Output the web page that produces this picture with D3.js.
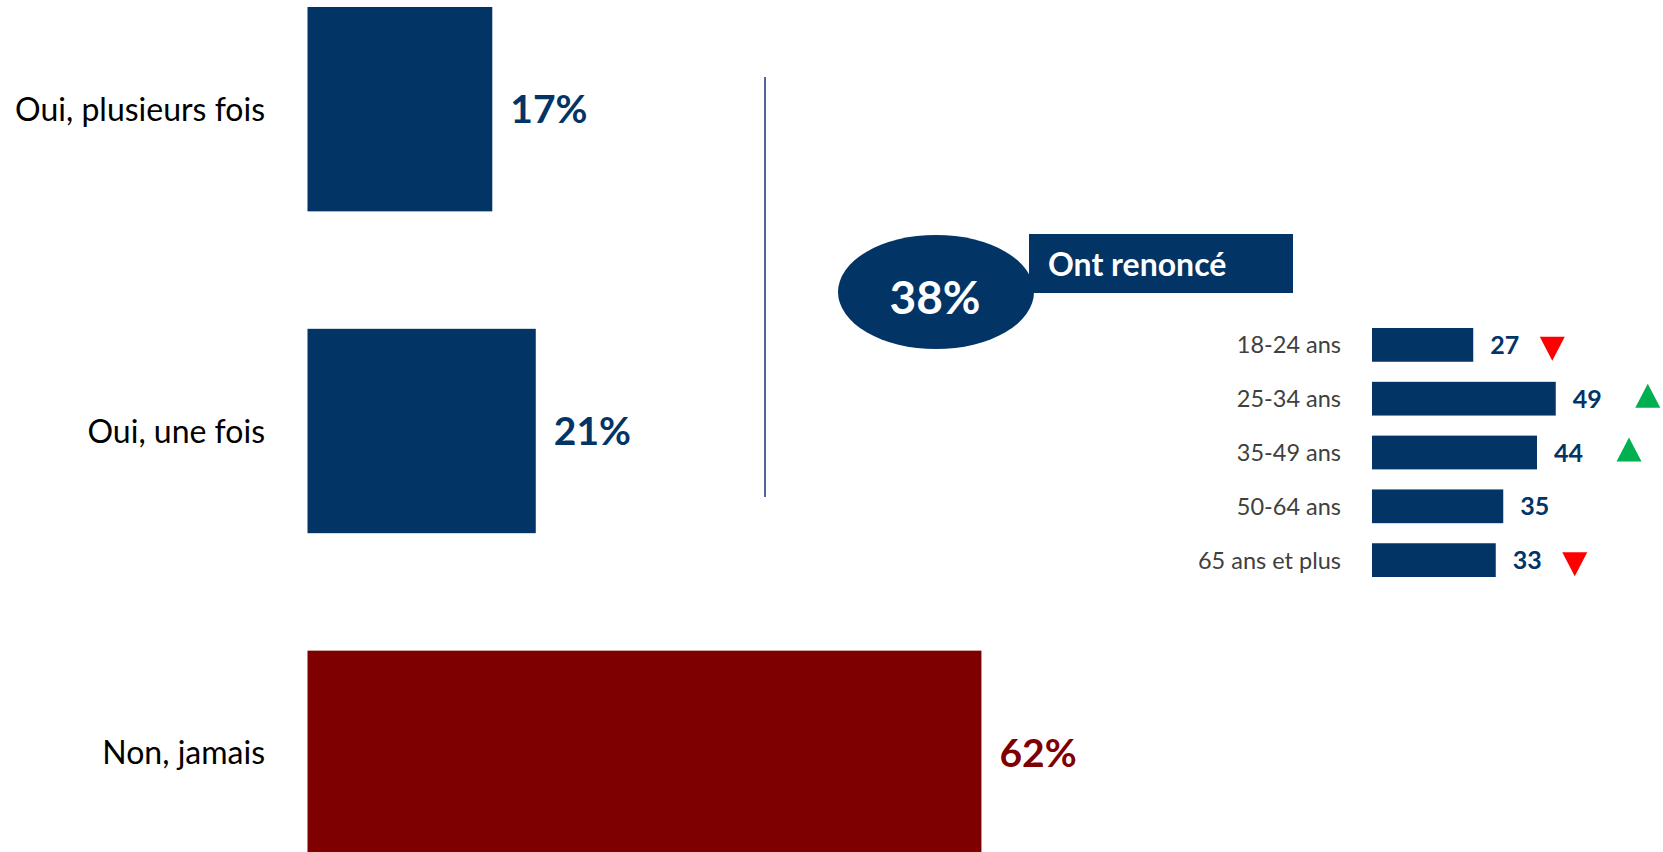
<!DOCTYPE html>
<html>
<head>
<meta charset="utf-8">
<script src="https://cdn.jsdelivr.net/npm/d3@7"></script>
<style>
  html, body { margin: 0; padding: 0; background: #ffffff; overflow: hidden; }
  svg { display: block; }
  text { font-family: Lato, "Open Sans", "Noto Sans", sans-serif; }
</style>
</head>
<body>
<svg id="chart" width="1663" height="852"></svg>
<script>
// ---------- data ----------
const mainCategories = ["Oui, plusieurs fois", "Oui, une fois", "Non, jamais"];
const mainValues = [17, 21, 62];
const mainColors = ["#023466", "#023466", "#7f0000"];

const totalRenounced = 38;
const totalLabel = "Ont renoncé";

const ageCategories = ["18-24 ans", "25-34 ans", "35-49 ans", "50-64 ans", "65 ans et plus"];
const ageValues = [27, 49, 44, 35, 33];
const ageTrend = ["down", "up", "up", "", "down"];

// ---------- setup ----------
const svg = d3.select("#chart");
const NAVY = "#023466";

// main bars
const xMain = d3.scaleLinear().domain([0, 100]).range([307.5, 1394.5]);
const yMain = d3.scaleBand().domain(mainCategories).range([7, 855]).paddingInner(0.365).paddingOuter(0);

const gMain = svg.append("g");
gMain.selectAll("rect").data(mainCategories).join("rect")
  .attr("x", xMain(0))
  .attr("y", d => yMain(d))
  .attr("width", (d, i) => xMain(mainValues[i]) - xMain(0))
  .attr("height", yMain.bandwidth())
  .attr("fill", (d, i) => mainColors[i]);

gMain.selectAll("text.cat").data(mainCategories).join("text")
  .attr("class", "cat")
  .attr("x", 265)
  .attr("y", d => yMain(d) + yMain.bandwidth() / 2)
  .attr("dy", "0.36em")
  .attr("text-anchor", "end")
  .attr("font-size", 32)
  .attr("fill", "#000")
  .text(d => d);

gMain.selectAll("text.val").data(mainCategories).join("text")
  .attr("class", "val")
  .attr("x", (d, i) => xMain(mainValues[i]) + 18)
  .attr("y", d => yMain(d) + yMain.bandwidth() / 2)
  .attr("dy", "0.36em")
  .attr("font-size", 39)
  .attr("font-weight", "bold")
  .attr("fill", (d, i) => mainColors[i])
  .text((d, i) => mainValues[i] + "%");

// divider
svg.append("line")
  .attr("x1", 765).attr("x2", 765)
  .attr("y1", 77).attr("y2", 497)
  .attr("stroke", "#4d6899").attr("stroke-width", 2);

// callout
const gCall = svg.append("g");
gCall.append("rect")
  .attr("x", 1029).attr("y", 234).attr("width", 264).attr("height", 59)
  .attr("fill", NAVY);
gCall.append("ellipse")
  .attr("cx", 936).attr("cy", 292).attr("rx", 98).attr("ry", 57)
  .attr("fill", NAVY);
gCall.append("text")
  .attr("x", 935).attr("y", 297).attr("dy", "0.36em")
  .attr("text-anchor", "middle")
  .attr("font-size", 46).attr("font-weight", "bold").attr("fill", "#fff")
  .text(totalRenounced + "%");
gCall.append("text")
  .attr("x", 1048).attr("y", 264).attr("dy", "0.36em")
  .attr("font-size", 32).attr("font-weight", "bold").attr("fill", "#fff")
  .text(totalLabel);

// age sub-chart
const xAge = d3.scaleLinear().domain([0, 100]).range([1372, 1747]);
const yAge = d3.scaleBand().domain(ageCategories).range([328, 577]).paddingInner(0.373).paddingOuter(0);

const gAge = svg.append("g");
gAge.selectAll("rect").data(ageCategories).join("rect")
  .attr("x", xAge(0))
  .attr("y", d => yAge(d))
  .attr("width", (d, i) => xAge(ageValues[i]) - xAge(0))
  .attr("height", yAge.bandwidth())
  .attr("fill", NAVY);

gAge.selectAll("text.cat").data(ageCategories).join("text")
  .attr("class", "cat")
  .attr("x", 1341)
  .attr("y", d => yAge(d) + yAge.bandwidth() / 2)
  .attr("dy", "0.36em")
  .attr("text-anchor", "end")
  .attr("font-size", 23.5)
  .attr("fill", "#404040")
  .text(d => d);

const vals = gAge.selectAll("text.val").data(ageCategories).join("text")
  .attr("class", "val")
  .attr("x", (d, i) => xAge(ageValues[i]) + 17)
  .attr("y", d => yAge(d) + yAge.bandwidth() / 2)
  .attr("dy", "0.36em")
  .attr("font-size", 25)
  .attr("font-weight", "bold")
  .attr("fill", NAVY)
  .text((d, i) => ageValues[i]);

// trend triangles
vals.each(function(d, i) {
  const t = ageTrend[i];
  if (!t) return;
  const endX = xAge(ageValues[i]) + 17 + this.getComputedTextLength();
  const cx = endX + (t === "up" ? 46 : 33);
  const cy = yAge(d) + yAge.bandwidth() / 2 + (t === "up" ? -3 : 4);
  const h = 24, w = 25;
  const pts = t === "up"
    ? [[cx - w / 2, cy + h / 2], [cx + w / 2, cy + h / 2], [cx, cy - h / 2]]
    : [[cx - w / 2, cy - h / 2], [cx + w / 2, cy - h / 2], [cx, cy + h / 2]];
  gAge.append("path")
    .attr("d", d3.line()(pts) + "Z")
    .attr("fill", t === "up" ? "#00b050" : "#ff0000");
});
</script>
</body>
</html>
